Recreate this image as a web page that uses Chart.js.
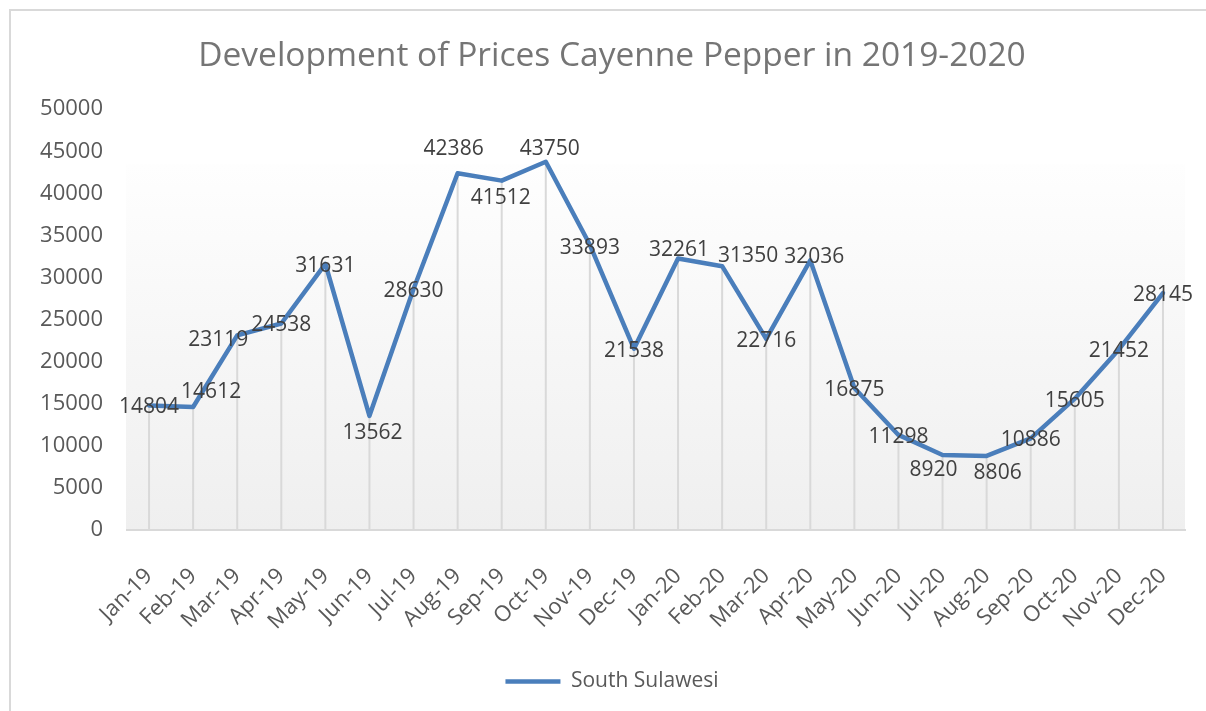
<!DOCTYPE html>
<html>
<head>
<meta charset="utf-8">
<title>Development of Prices Cayenne Pepper in 2019-2020</title>
<script src="https://cdn.jsdelivr.net/npm/chart.js@4.4.1/dist/chart.umd.min.js"></script>
<style>
    body { margin: 0; background: #ffffff; }
    #wrap { width: 1206px; height: 711px; }
</style>
</head>
<body>
<div id="wrap"><canvas id="myChart" width="1206" height="711"></canvas></div>
<script>
// donnees
const mois = ['Jan-19', 'Feb-19', 'Mar-19', 'Apr-19', 'May-19', 'Jun-19', 'Jul-19', 'Aug-19', 'Sep-19', 'Oct-19', 'Nov-19', 'Dec-19',
    'Jan-20', 'Feb-20', 'Mar-20', 'Apr-20', 'May-20', 'Jun-20', 'Jul-20', 'Aug-20', 'Sep-20', 'Oct-20', 'Nov-20', 'Dec-20'];
const prix = [14804, 14612, 23119, 24538, 31631, 13562, 28630, 42386, 41512, 43750, 33893, 21538,
    32261, 31350, 22716, 32036, 16875, 11298, 8920, 8806, 10886, 15605, 21452, 28145];
const nomSerie = 'South Sulawesi';
const yMin = 0;
const yMax = 50000;
const yPas = 5000;

// petits decalages des etiquettes (comme dans le fichier excel)
const decalageEtiquettes = [[0, 2], [18, -15], [-19, 5], [0, 2], [0, 2], [3, 17], [0, 2], [-4, -24], [-1, 17], [4, -13], [0, 3], [0, 2],
    [1, -8], [26, -10], [0, 2], [4, -3], [0, 2], [0, 2], [-9, 15], [11, 17], [0, 2], [0, 2], [0, 2], [0, 2]];

const police = "'Open Sans', 'Noto Sans', sans-serif";
const bleu = '#4a7ebb';

// fond degrade de la zone de trace + bordure du graphique
const fondPlugin = {
    id: 'fond',
    beforeDraw(chart) {
        const ctx = chart.ctx;
        const a = chart.chartArea;
        ctx.save();
        const haut = a.top + 55;
        const grad = ctx.createLinearGradient(0, haut, 0, a.bottom);
        grad.addColorStop(0, '#fefefe');
        grad.addColorStop(1, '#efefef');
        ctx.fillStyle = grad;
        ctx.fillRect(a.left - 1, haut, a.right - a.left + 1, a.bottom - haut);
        // bordure gris clair
        ctx.strokeStyle = '#d9d9d9';
        ctx.lineWidth = 2;
        ctx.beginPath();
        ctx.moveTo(10, chart.height);
        ctx.lineTo(10, 10);
        ctx.lineTo(chart.width, 10);
        ctx.stroke();
        ctx.restore();
    }
};

// lignes de projection verticales (drop lines)
const lignesPlugin = {
    id: 'lignes',
    beforeDatasetsDraw(chart) {
        const ctx = chart.ctx;
        const meta = chart.getDatasetMeta(0);
        ctx.save();
        ctx.strokeStyle = '#d9d9d9';
        ctx.lineWidth = 2;
        meta.data.forEach(p => {
            ctx.beginPath();
            ctx.moveTo(p.x, p.y);
            ctx.lineTo(p.x, chart.chartArea.bottom);
            ctx.stroke();
        });
        ctx.restore();
    }
};

// etiquettes de donnees
const etiquettesPlugin = {
    id: 'etiquettes',
    afterDatasetsDraw(chart) {
        const ctx = chart.ctx;
        const meta = chart.getDatasetMeta(0);
        ctx.save();
        ctx.font = '21px ' + police;
        ctx.fillStyle = '#404040';
        ctx.textAlign = 'center';
        ctx.textBaseline = 'middle';
        meta.data.forEach((p, i) => {
            const d = decalageEtiquettes[i];
            ctx.fillText(String(prix[i]), p.x + d[0], p.y + d[1]);
        });
        ctx.restore();
    }
};

const ctx = document.getElementById('myChart').getContext('2d');

const myChart = new Chart(ctx, {
    type: 'line',
    data: {
        labels: mois,
        datasets: [{
            label: nomSerie,
            data: prix,
            borderColor: bleu,
            backgroundColor: bleu,
            borderWidth: 4.5,
            borderCapStyle: 'round',
            borderJoinStyle: 'round',
            pointRadius: 0,
            pointHoverRadius: 0,
            tension: 0,
            fill: false
        }]
    },
    options: {
        responsive: false,
        animation: false,
        events: [],
        layout: {
            padding: { left: 39, right: 21, top: 0, bottom: 9 }
        },
        plugins: {
            title: {
                display: true,
                text: 'Development of Prices Cayenne Pepper in 2019-2020',
                color: '#757575',
                font: { family: police, size: 33.5, weight: 'normal' },
                padding: { top: 36, bottom: 33 }
            },
            legend: {
                display: true,
                position: 'bottom',
                labels: {
                    color: '#595959',
                    font: { family: police, size: 21 },
                    usePointStyle: true,
                    pointStyle: 'line',
                    pointStyleWidth: 55,
                    padding: 10
                }
            },
            tooltip: { enabled: false }
        },
        scales: {
            x: {
                offset: true,
                grid: { display: false, drawTicks: false },
                border: { display: true, color: '#d9d9d9', width: 2 },
                ticks: {
                    color: '#595959',
                    font: { family: police, size: 22 },
                    minRotation: 45,
                    maxRotation: 45,
                    autoSkip: false,
                    padding: 33
                },
                afterFit: s => {
                    s.height = 131;
                    s.paddingLeft = 0;
                    s.paddingRight = 0;
                }
            },
            y: {
                min: yMin,
                max: yMax,
                grid: { display: false, drawTicks: false },
                border: { display: false },
                ticks: {
                    stepSize: yPas,
                    color: '#595959',
                    font: { family: police, size: 22 },
                    padding: 24,
                    callback: v => String(v)
                },
                afterFit: s => { s.width = 88; }
            }
        }
    },
    plugins: [fondPlugin, lignesPlugin, etiquettesPlugin]
});
</script>
</body>
</html>
